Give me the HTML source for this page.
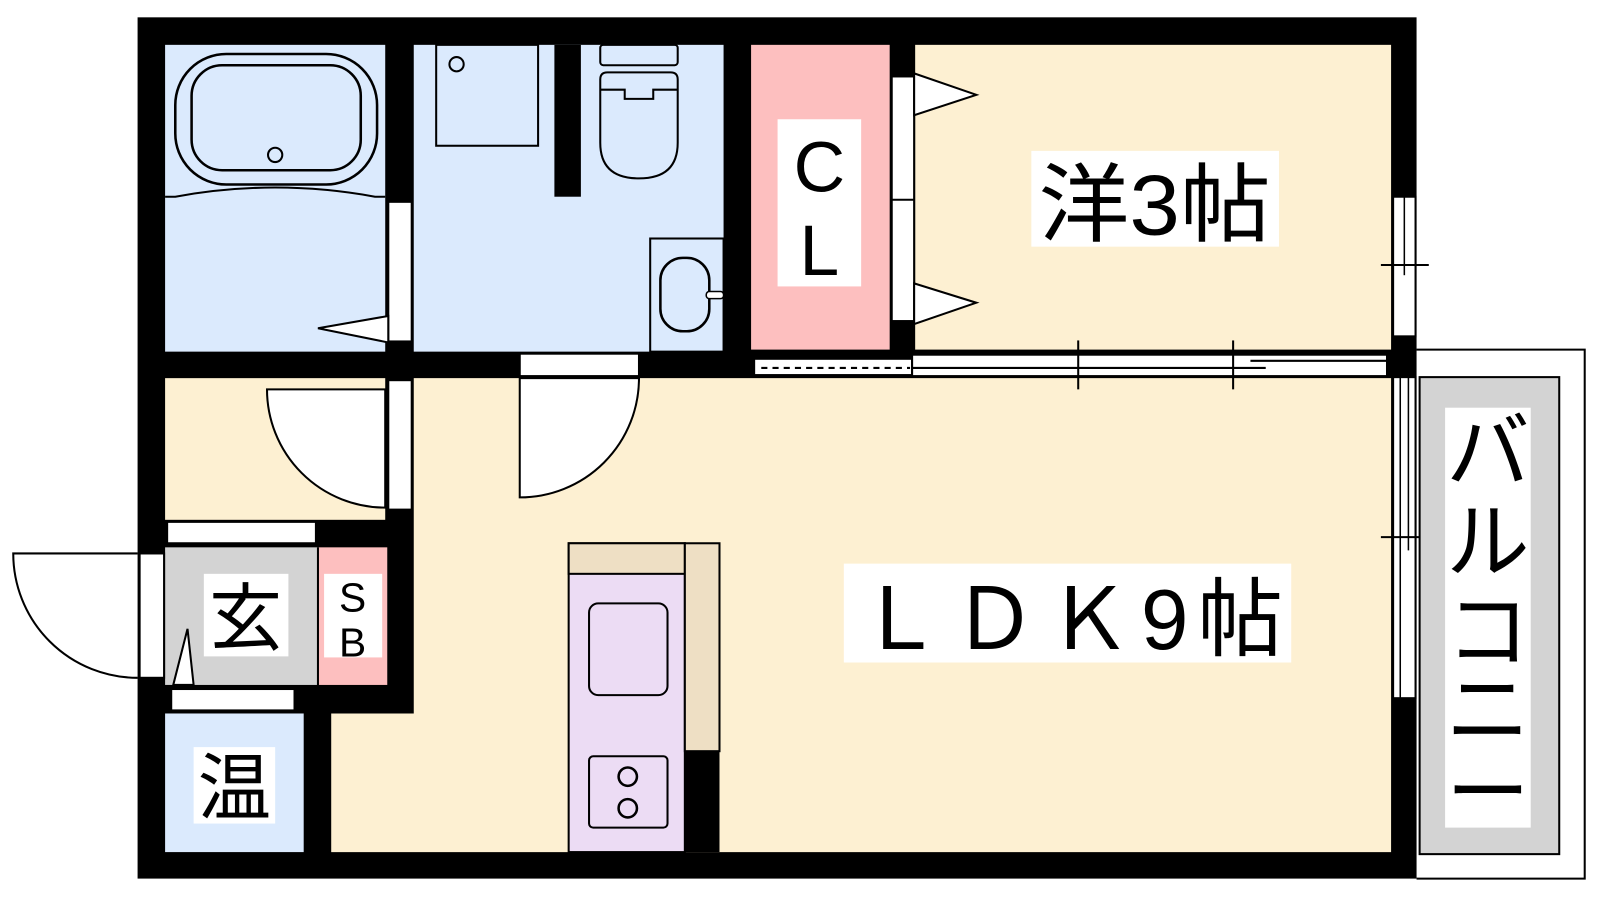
<!DOCTYPE html>
<html><head><meta charset="utf-8"><style>html,body{margin:0;padding:0;background:#fff;overflow:hidden}svg{display:block}text{font-family:"Liberation Sans","Noto Sans CJK JP",sans-serif}</style></head>
<body>
<svg width="1600" height="900" viewBox="0 0 1570 883" preserveAspectRatio="none" xmlns="http://www.w3.org/2000/svg">
<rect width="1570" height="883" fill="#fff"/>
<!-- outer wall -->
<rect x="135" y="17" width="1255" height="845" fill="#000"/>
<!-- floors -->
<rect x="162" y="44" width="216" height="301" fill="#dbeafd"/>
<rect x="406" y="44" width="304" height="301" fill="#dbeafd"/>
<rect x="737" y="44" width="136" height="299" fill="#fdbfbf"/>
<rect x="898" y="44" width="467" height="299" fill="#fdf0d2"/>
<rect x="162" y="371" width="216" height="139" fill="#fdf0d2"/>
<path d="M406 371 L1365 371 L1365 836 L325 836 L325 700 L406 700 Z" fill="#fdf0d2"/>
<rect x="162" y="537" width="150" height="135" fill="#d3d3d3"/>
<rect x="312" y="537" width="68" height="135" fill="#fdbfbf"/>
<rect x="162" y="700" width="136" height="136" fill="#dbeafd"/>
<line x1="312" y1="537" x2="312" y2="672" stroke="#000" stroke-width="2"/>
<!-- toilet partition -->
<rect x="544" y="44" width="26" height="149" fill="#000"/>
<!-- bath tub -->
<path d="M162 193 L172 193 Q270 175 368 193 L378 193" fill="none" stroke="#000" stroke-width="2"/>
<rect x="172" y="53" width="198" height="128" rx="50" fill="none" stroke="#000" stroke-width="2.5"/>
<rect x="188" y="64" width="166" height="103" rx="30" fill="none" stroke="#000" stroke-width="2.5"/>
<circle cx="270" cy="152" r="7" fill="none" stroke="#000" stroke-width="2"/>
<!-- washer -->
<rect x="428" y="44" width="100" height="99" fill="none" stroke="#000" stroke-width="2"/>
<circle cx="448" cy="63" r="7" fill="none" stroke="#000" stroke-width="2"/>
<!-- toilet -->
<rect x="589" y="44" width="76" height="20" rx="3" fill="none" stroke="#000" stroke-width="2"/>
<path d="M589 78 Q589 71 596 71 L658 71 Q665 71 665 78 L665 140 Q665 175 627 175 Q589 175 589 140 Z" fill="none" stroke="#000" stroke-width="2"/>
<path d="M589 88 L613 88 L613 97 L641 97 L641 88 L665 88" fill="none" stroke="#000" stroke-width="2"/>
<!-- basin -->
<rect x="638" y="234" width="72" height="111" fill="none" stroke="#000" stroke-width="2"/>
<rect x="648" y="253" width="48" height="72" rx="22" fill="none" stroke="#000" stroke-width="2.5"/>
<rect x="693" y="286" width="17" height="7" rx="3" fill="#fff" stroke="#000" stroke-width="1.5"/>
<!-- bath door -->
<rect x="381" y="198" width="23" height="137" fill="#fff" stroke="#000" stroke-width="2"/>
<path d="M381 310 L312 322 L381 336 Z" fill="#fff" stroke="#000" stroke-width="2"/>
<!-- wash door opening -->
<rect x="510" y="347" width="117" height="22" fill="#fff" stroke="#000" stroke-width="2"/>
<path d="M510 371 L627 371 A117 117 0 0 1 510 488 Z" fill="#fff" stroke="#000" stroke-width="2"/>
<!-- hall door -->
<rect x="381" y="373" width="23" height="127" fill="#fff" stroke="#000" stroke-width="2"/>
<path d="M378 382 L262 382 A116 116 0 0 0 378 498 Z" fill="#fff" stroke="#000" stroke-width="2"/>
<!-- CL doors -->
<rect x="875" y="75" width="22" height="240" fill="#fff" stroke="#000" stroke-width="2"/>
<line x1="875" y1="196" x2="897" y2="196" stroke="#000" stroke-width="2"/>
<path d="M897 72 L958 93 L897 113 Z" fill="#fff" stroke="#000" stroke-width="2"/>
<path d="M897 278 L958 297 L897 318 Z" fill="#fff" stroke="#000" stroke-width="2"/>
<!-- sliding between bedroom and LDK -->
<rect x="740" y="352" width="155" height="16" fill="#fff" stroke="#000" stroke-width="2"/>
<line x1="747" y1="361" x2="893" y2="361" stroke="#000" stroke-width="2" stroke-dasharray="6 5"/>
<rect x="895" y="348" width="466" height="21" fill="#fff" stroke="#000" stroke-width="2"/>
<line x1="895" y1="361" x2="1242" y2="361" stroke="#000" stroke-width="2"/>
<line x1="1227" y1="354" x2="1361" y2="354" stroke="#000" stroke-width="2"/>
<line x1="1058" y1="334" x2="1058" y2="382" stroke="#000" stroke-width="2"/>
<line x1="1210" y1="334" x2="1210" y2="382" stroke="#000" stroke-width="2"/>
<!-- right windows -->
<rect x="1367" y="193" width="22" height="137" fill="#fff" stroke="#000" stroke-width="2"/>
<line x1="1378" y1="193" x2="1378" y2="270" stroke="#000" stroke-width="1.5"/>
<line x1="1355" y1="260" x2="1402" y2="260" stroke="#000" stroke-width="2"/>
<rect x="1367" y="370" width="22" height="315" fill="#fff" stroke="#000" stroke-width="2"/>
<line x1="1374" y1="370" x2="1374" y2="685" stroke="#000" stroke-width="1.5"/>
<line x1="1382" y1="370" x2="1382" y2="540" stroke="#000" stroke-width="1.5"/>
<line x1="1355" y1="527" x2="1402" y2="527" stroke="#000" stroke-width="2"/>
<!-- balcony -->
<path d="M1390 343 L1555 343 L1555 862 L1390 862" fill="none" stroke="#000" stroke-width="2"/>
<rect x="1393" y="370" width="137" height="468" fill="#d3d3d3" stroke="#000" stroke-width="2"/>
<rect x="1418" y="400" width="84" height="412" fill="#fff"/>
<g font-size="82" text-anchor="middle">
<text x="1460" y="472">バ</text><text x="1460" y="560">ル</text><text x="1460" y="648">コ</text><text x="1460" y="725">ニ</text><text x="1460" y="806">ー</text>
</g>
<!-- genkan area -->
<rect x="164" y="512" width="146" height="21" fill="#fff" stroke="#000" stroke-width="2"/>
<rect x="168" y="676" width="121" height="21" fill="#fff" stroke="#000" stroke-width="2"/>
<path d="M170 672 L184 617 L190 672 Z" fill="#fff" stroke="#000" stroke-width="2"/>
<rect x="137" y="543" width="24" height="122" fill="#fff" stroke="#000" stroke-width="2"/>
<path d="M135 543 L13 543 A122 122 0 0 0 135 665" fill="none" stroke="#000" stroke-width="2"/>
<!-- kitchen -->
<rect x="558" y="533" width="114" height="303" fill="#ecdcf4" stroke="#000" stroke-width="2"/>
<rect x="558" y="533" width="114" height="30" fill="#eedfc4" stroke="#000" stroke-width="2"/>
<rect x="672" y="533" width="34" height="204" fill="#eedfc4" stroke="#000" stroke-width="2"/>
<rect x="672" y="737" width="34" height="99" fill="#000"/>
<rect x="578" y="592" width="77" height="90" rx="9" fill="none" stroke="#000" stroke-width="2"/>
<rect x="578" y="742" width="77" height="70" rx="4" fill="none" stroke="#000" stroke-width="2"/>
<circle cx="616" cy="762" r="9" fill="none" stroke="#000" stroke-width="2.5"/>
<circle cx="616" cy="793" r="9" fill="none" stroke="#000" stroke-width="2.5"/>
<!-- labels -->
<rect x="763" y="117" width="82" height="164" fill="#fff"/>
<text x="804" y="188" font-size="70" text-anchor="middle">C</text>
<text x="804" y="270" font-size="70" text-anchor="middle">L</text>
<rect x="1012" y="148" width="243" height="94" fill="#fff"/>
<text x="1133" y="230" font-size="84" text-anchor="middle" textLength="228" lengthAdjust="spacingAndGlyphs">洋3帖</text>
<rect x="828" y="553" width="439" height="97" fill="#fff"/>
<text x="1050" y="637" font-size="84" text-anchor="middle" textLength="418" lengthAdjust="spacing">ＬＤＫ9帖</text>
<rect x="200" y="563" width="83" height="81" fill="#fff"/>
<text x="241" y="632" font-size="72" text-anchor="middle">玄</text>
<rect x="318" y="563" width="57" height="82" fill="#fff"/>
<text x="346" y="600" font-size="40" text-anchor="middle">S</text>
<text x="346" y="644" font-size="40" text-anchor="middle">B</text>
<rect x="190" y="733" width="80" height="75" fill="#fff"/>
<text x="230" y="798" font-size="72" text-anchor="middle">温</text>
</svg>
</body></html>
